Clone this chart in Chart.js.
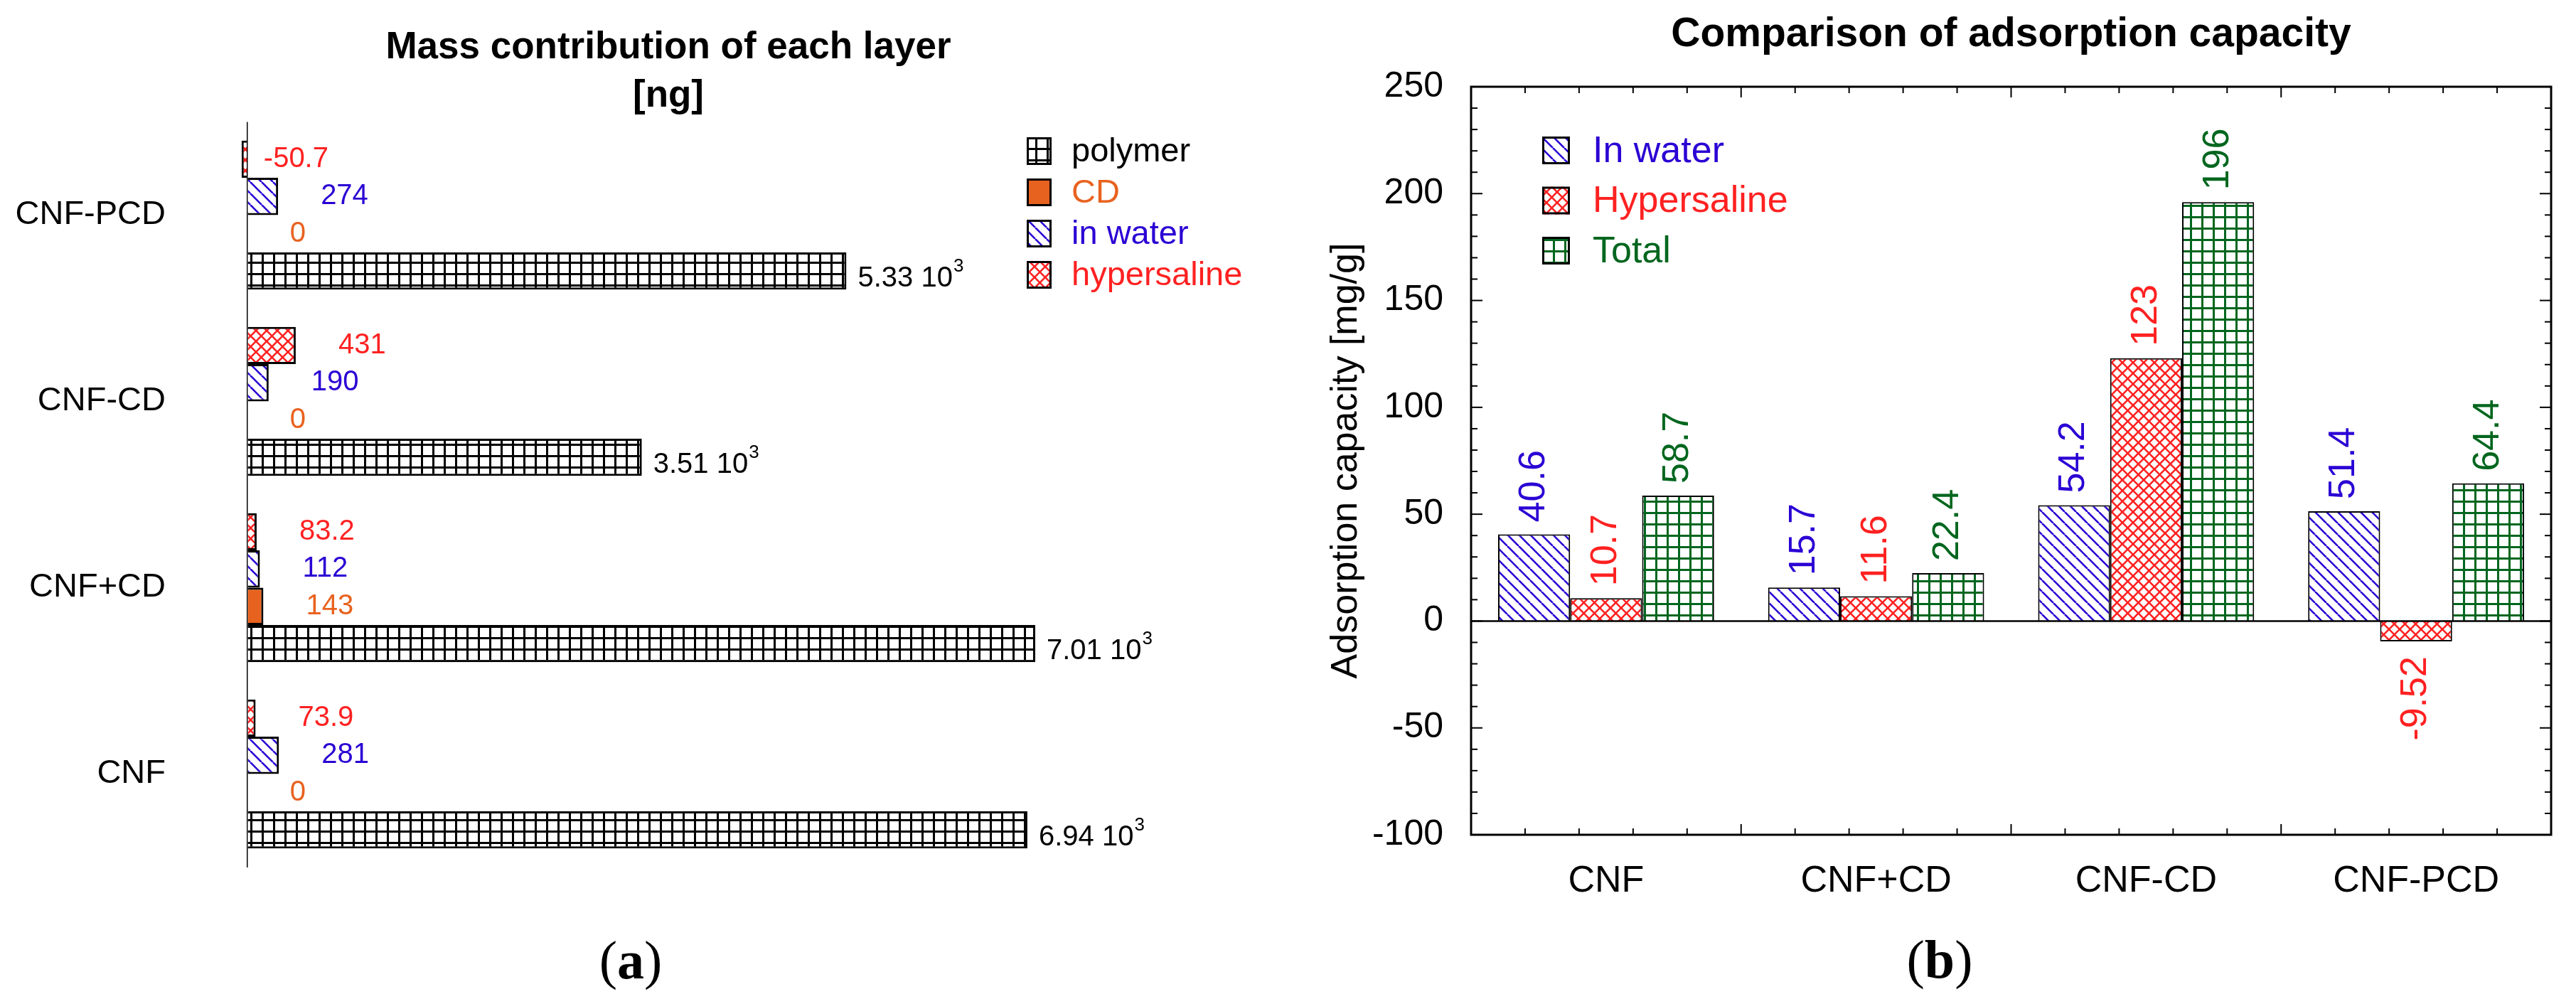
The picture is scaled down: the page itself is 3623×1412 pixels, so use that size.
<!DOCTYPE html>
<html>
<head>
<meta charset="utf-8">
<script src="https://cdn.jsdelivr.net/npm/chart.js@4.4.0/dist/chart.umd.min.js"></script>
<style>
  html, body { margin: 0; padding: 0; background: #fff; }
  body { width: 3623px; height: 1412px; position: relative; overflow: hidden; }
  .panel { position: absolute; top: 0; height: 1412px; }
  #panelA { left: 0; width: 1880px; }
  #panelB { left: 1800px; width: 1823px; }
  .tag { position: absolute; font-family: "Liberation Serif", "Times New Roman", serif; font-size: 76px;
         transform: translate(-50%, -50%); white-space: nowrap; }
</style>
</head>
<body>
<div class="panel" id="panelA"><canvas id="massChart"></canvas></div>
<div class="panel" id="panelB"><canvas id="capChart"></canvas></div>
<div class="tag" style="left:887px; top:1350px">(<b>a</b>)</div>
<div class="tag" style="left:2728px; top:1349px">(<b>b</b>)</div>
<script>
// Samples, same order in both panels
const categories = ['CNF', 'CNF+CD', 'CNF-CD', 'CNF-PCD'];

// (a) mass contribution of each layer [ng]
const polymerMass = [6940, 7010, 3510, 5330];
const cdMass = [0, 143, 0, 0];
const waterMass = [281, 112, 190, 274];
const hypersalineMass = [73.9, 83.2, 431, -50.7];

// (b) adsorption capacity [mg/g]
const waterCapacity = [40.6, 15.7, 54.2, 51.4];
const hypersalineCapacity = [10.7, 11.6, 123, -9.52];
const totalCapacity = [58.7, 22.4, 196, 64.4];
const capacityTicks = [-100, -50, 0, 50, 100, 150, 200, 250];

const BLUE = '#2b00d4', RED = '#ff2121', GREEN = '#00661e', ORANGE = '#e8621f';
const SANS = '"Liberation Sans", Arial, sans-serif';
Chart.defaults.font.family = SANS;
Chart.defaults.color = '#000';

// hatch fills
function makePattern(kind, color, size, lw) {
  const tile = document.createElement('canvas');
  tile.width = size; tile.height = size;
  const c = tile.getContext('2d');
  c.fillStyle = '#fff';
  c.fillRect(0, 0, size, size);
  c.fillStyle = color;
  c.strokeStyle = color;
  c.lineWidth = lw;
  if (kind === 'grid') {
    c.fillRect(0, 0, lw, size);
    c.fillRect(0, 0, size, lw);
  } else {
    c.beginPath();
    for (let k = -1; k <= 1; k++) {
      c.moveTo(k * size, 0); c.lineTo(k * size + size, size);
      if (kind === 'cross') { c.moveTo(k * size + size, 0); c.lineTo(k * size, size); }
    }
    c.stroke();
  }
  return c.createPattern(tile, 'repeat');
}

const gridBlack = makePattern('grid', '#000', 16, 3);
const gridGreen = makePattern('grid', GREEN, 16, 3);
const diagBlue = makePattern('diag', BLUE, 16, 2.6);
const crossRed = makePattern('cross', RED, 15, 2.6);

// legend with hatched boxes, drawn at fixed spot
const patternLegend = {
  id: 'patternLegend',
  afterDraw(chart, args, opts) {
    const ctx = chart.ctx;
    ctx.save();
    ctx.font = opts.font;
    ctx.textBaseline = 'middle';
    ctx.textAlign = 'left';
    opts.order.forEach((di, row) => {
      const ds = chart.data.datasets[di];
      const y = opts.y + row * opts.pitch;
      ctx.fillStyle = ds.backgroundColor;
      ctx.fillRect(opts.x, y, opts.boxW, opts.boxH);
      ctx.lineWidth = 3;
      ctx.strokeStyle = '#000';
      ctx.strokeRect(opts.x + 1.5, y + 1.5, opts.boxW - 3, opts.boxH - 3);
      ctx.fillStyle = ds.textColor;
      ctx.fillText(ds.label, opts.textX, y + opts.boxH / 2 + 2);
    });
    ctx.restore();
  }
};

// value labels for the horizontal bars
const massValues = {
  id: 'massValues',
  afterDatasetsDraw(chart) {
    const ctx = chart.ctx;
    const x0 = chart.scales.x.getPixelForValue(0);
    ctx.save();
    ctx.textBaseline = 'middle';
    ctx.textAlign = 'left';
    chart.data.datasets.forEach((ds, di) => {
      chart.getDatasetMeta(di).data.forEach((bar, i) => {
        const v = ds.data[i];
        ctx.fillStyle = ds.textColor;
        ctx.font = '40px ' + SANS;
        if (ds.label === 'polymer') {
          const main = (v / 1000).toFixed(2) + ' 10';
          const x = bar.x + 16, y = bar.y + 11;
          ctx.fillText(main, x, y);
          const w = ctx.measureText(main).width;
          ctx.font = '26px ' + SANS;
          ctx.fillText('3', x + w + 1, y - 17);
        } else {
          const x = v < 0 ? x0 + 23 : Math.max(bar.x, x0) + 60;
          ctx.fillText(String(v), x, bar.y);
        }
      });
    });
    ctx.restore();
  }
};

// rotated value labels for the vertical bars
const capacityValues = {
  id: 'capacityValues',
  afterDatasetsDraw(chart) {
    const ctx = chart.ctx;
    ctx.save();
    ctx.font = '52px ' + SANS;
    ctx.textBaseline = 'middle';
    chart.data.datasets.forEach((ds, di) => {
      chart.getDatasetMeta(di).data.forEach((bar, i) => {
        const v = ds.data[i];
        ctx.save();
        ctx.translate(bar.x, v >= 0 ? bar.y - 17 : bar.y + 21);
        ctx.rotate(-Math.PI / 2);
        ctx.textAlign = v >= 0 ? 'left' : 'right';
        ctx.fillStyle = ds.textColor;
        ctx.fillText(String(v), 0, 0);
        ctx.restore();
      });
    });
    ctx.restore();
  }
};

// box frame, zero line and inward ticks of panel (b)
const frameTicks = {
  id: 'frameTicks',
  afterDatasetsDraw(chart) {
    const { ctx, chartArea: a, scales: { x, y } } = chart;
    const seg = (x1, y1, x2, y2) => { ctx.beginPath(); ctx.moveTo(x1, y1); ctx.lineTo(x2, y2); ctx.stroke(); };
    ctx.save();
    ctx.strokeStyle = '#000';
    ctx.lineWidth = 2.5;
    const y0 = y.getPixelForValue(0);
    seg(a.left, y0, a.right, y0);
    ctx.lineWidth = 2;
    for (let v = y.min + 10; v < y.max; v += 10) {
      const py = y.getPixelForValue(v);
      const len = v % 50 === 0 ? 16 : 9;
      seg(a.left, py, a.left + len, py);
      seg(a.right - len, py, a.right, py);
    }
    const band = x.getPixelForValue(1) - x.getPixelForValue(0);
    const n = chart.data.labels.length * 5;
    for (let k = 1; k < n; k++) {
      const px = a.left + k * band / 5;
      const len = k % 5 === 0 ? 15 : 9;
      seg(px, a.bottom, px, a.bottom - len);
      seg(px, a.top, px, a.top + len);
    }
    ctx.lineWidth = 3;
    ctx.strokeRect(a.left, a.top, a.right - a.left, a.bottom - a.top);
    ctx.restore();
  }
};

// (a): categories run top to bottom from CNF-PCD to CNF
const rev = arr => arr.slice().reverse();

new Chart(document.getElementById('massChart'), {
  type: 'bar',
  data: {
    labels: rev(categories),
    datasets: [
      { label: 'hypersaline', data: rev(hypersalineMass), backgroundColor: crossRed, textColor: RED },
      { label: 'in water', data: rev(waterMass), backgroundColor: diagBlue, textColor: BLUE },
      { label: 'CD', data: rev(cdMass), backgroundColor: ORANGE, textColor: ORANGE },
      { label: 'polymer', data: rev(polymerMass), backgroundColor: gridBlack, textColor: '#000' }
    ]
  },
  options: {
    indexAxis: 'y',
    responsive: true,
    maintainAspectRatio: false,
    animation: false,
    layout: { padding: 0 },
    datasets: { bar: { categoryPercentage: 0.8, barPercentage: 1, borderColor: '#000', borderWidth: 3 } },
    scales: {
      x: {
        min: -100,
        max: 9692,
        afterBuildTicks: s => { s.ticks = [{ value: 0 }]; },
        afterFit: s => { s.height = 192.5; },
        ticks: { display: false },
        border: { display: false },
        grid: { color: '#000', lineWidth: 1.5, drawTicks: false }
      },
      y: {
        afterFit: s => { s.width = 332; },
        ticks: { font: { size: 47 }, color: '#000', padding: 99 },
        grid: { display: false, drawTicks: false },
        border: { display: false }
      }
    },
    plugins: {
      legend: { display: false },
      tooltip: { enabled: false },
      title: {
        display: true,
        text: ['Mass contribution of each layer', '[ng]'],
        color: '#000',
        font: { size: 53, weight: 'bold', lineHeight: 1.283 },
        padding: { top: 33.6, bottom: 1.9 }
      },
      patternLegend: { x: 1444, y: 193, boxW: 35, boxH: 39, pitch: 58, textX: 1507, order: [3, 2, 1, 0], font: '47px ' + SANS }
    }
  },
  plugins: [patternLegend, massValues]
});

// (b)
new Chart(document.getElementById('capChart'), {
  type: 'bar',
  data: {
    labels: categories,
    datasets: [
      { label: 'In water', data: waterCapacity, backgroundColor: diagBlue, textColor: BLUE },
      { label: 'Hypersaline', data: hypersalineCapacity, backgroundColor: crossRed, textColor: RED },
      { label: 'Total', data: totalCapacity, backgroundColor: gridGreen, textColor: GREEN }
    ]
  },
  options: {
    responsive: true,
    maintainAspectRatio: false,
    animation: false,
    layout: { padding: { left: 0, right: 35, top: 0, bottom: 0 } },
    datasets: { bar: { categoryPercentage: 0.8, barPercentage: 1, borderColor: '#000', borderWidth: 2 } },
    scales: {
      x: {
        afterFit: s => { s.height = 238; },
        ticks: { font: { size: 52 }, color: '#000', padding: 34 },
        grid: { display: false, drawTicks: false },
        border: { display: false }
      },
      y: {
        min: -100,
        max: 250,
        afterBuildTicks: s => { s.ticks = capacityTicks.map(v => ({ value: v })); },
        afterFit: s => { s.width = 269; },
        ticks: { font: { size: 50 }, color: '#000', padding: 39 },
        grid: { display: false, drawTicks: false },
        border: { display: false },
        title: {
          display: true,
          text: 'Adsorption capacity [mg/g]',
          color: '#000',
          font: { size: 52, lineHeight: 1.2 },
          padding: { top: 62, bottom: 0 }
        }
      }
    },
    plugins: {
      legend: { display: false },
      tooltip: { enabled: false },
      title: {
        display: true,
        fullSize: false,
        text: 'Comparison of adsorption capacity',
        color: '#000',
        font: { size: 57, weight: 'bold', lineHeight: 1.2 },
        padding: { top: 14.8, bottom: 38.8 }
      },
      patternLegend: { x: 369, y: 192, boxW: 39, boxH: 39, pitch: 70.5, textX: 440, order: [0, 1, 2], font: '52px ' + SANS }
    }
  },
  plugins: [frameTicks, capacityValues, patternLegend]
});
</script>
</body>
</html>
